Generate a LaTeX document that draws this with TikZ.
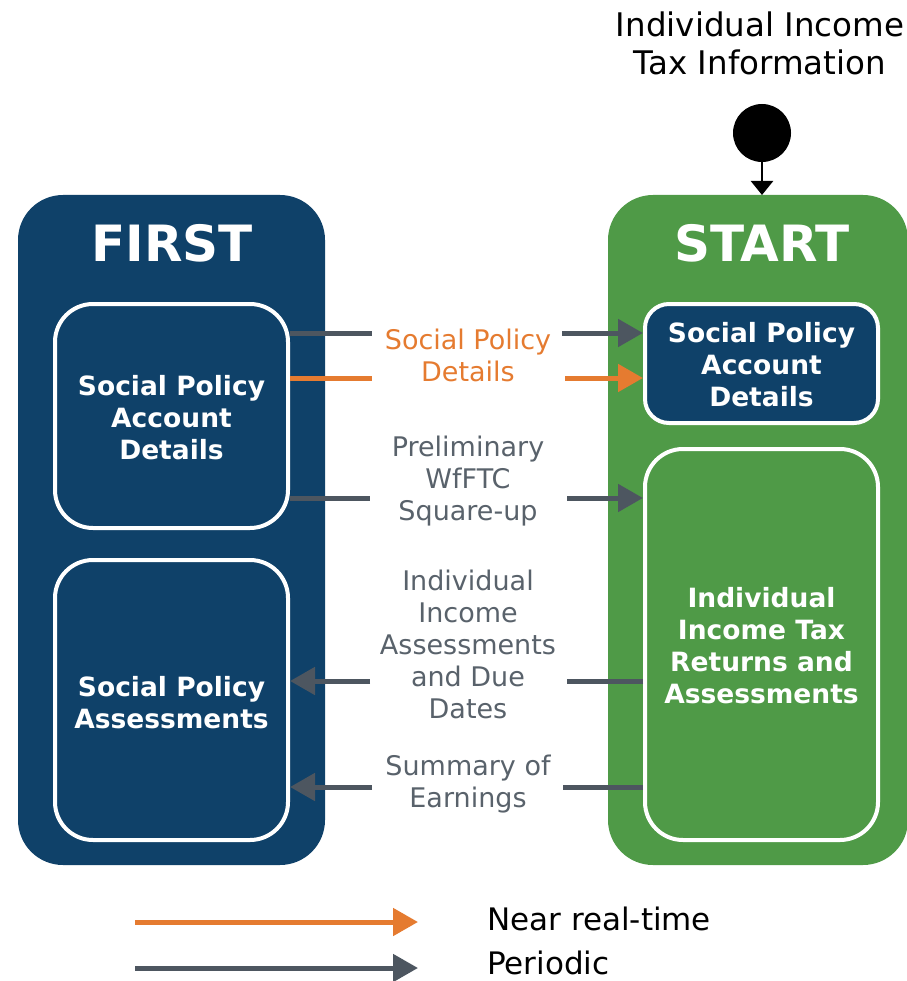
\documentclass[tikz,border=0pt]{standalone}
\usepackage{fontspec}
\setmainfont{DejaVu Sans}
\usetikzlibrary{arrows.meta}
\definecolor{navy}{HTML}{0F4169}
\definecolor{grn}{HTML}{4F9A47}
\definecolor{orng}{HTML}{E57B30}
\definecolor{slate}{HTML}{4D5660}
\definecolor{labgray}{HTML}{59626B}
\tikzset{
  innerbox/.style={draw=white, line width=4pt, rounded corners=38pt},
  boxtext/.style={text=white, font=\bfseries\fontsize{26.5}{32}\selectfont, align=center},
  title/.style={text=white, font=\bfseries\fontsize{50}{56}\selectfont},
  lab/.style={text=labgray, font=\fontsize{27}{32}\selectfont, align=center},
  olab/.style={text=orng, font=\fontsize{27}{32}\selectfont, align=center},
  gline/.style={draw=slate, line width=5pt},
  oline/.style={draw=orng, line width=5pt},
  tip/.style={-{Triangle[length=25pt,width=27pt]}},
  legtext/.style={text=black, font=\fontsize{31}{36}\selectfont, anchor=base west, inner sep=0pt},
}
\begin{document}
\begin{tikzpicture}[x=1pt,y=-1pt]
\useasboundingbox (0,0) rectangle (906,981);
% outer containers
\fill[navy, rounded corners=45pt] (18,195) rectangle (325,865);
\fill[grn, rounded corners=45pt] (608,195) rectangle (908,865);
\node[title] (first) at (172,243) {FIRST};
\node[title] (start) at (762,243) {START};
% inner boxes
\draw[innerbox, fill=navy] (55,304) rectangle (288,528);
\node[boxtext] (l1) at (171.5,418) {Social Policy\\Account\\Details};
\draw[innerbox, fill=navy] (55,560) rectangle (288,840);
\node[boxtext] (l2) at (171.5,703) {Social Policy\\Assessments};
\draw[innerbox, fill=navy, rounded corners=24pt] (645,304) rectangle (878,423);
\node[boxtext] (r1) at (761.5,365) {Social Policy\\Account\\Details};
\draw[innerbox, fill=grn] (645,449) rectangle (878,840);
\node[boxtext] (r2) at (761.5,646) {Individual\\Income Tax\\Returns and\\Assessments};
% start node
\node[font=\fontsize{32.5}{38}\selectfont, align=center] (info) at (760,43) {Individual Income\\Tax Information};
\node[circle, fill=black, minimum size=58pt, inner sep=0pt] (dot) at (762,133) {};
\coordinate (stop) at (762,195);
\draw[black, line width=2.5pt, -{Triangle[length=14pt,width=22pt]}] (dot.south) -- (stop);
% labels
\node[olab] (t1) at (468,355) {Social Policy\\Details};
\node[lab] (t3) at (468,481) {Preliminary\\WfFTC\\Square-up};
\node[lab] (t4) at (468,644) {Individual\\Income\\Assessments\\and Due\\Dates};
\node[lab] (t5) at (468,784) {Summary of\\Earnings};
% connector coordinates
\coordinate (a1s) at (290,333); \coordinate (a1g) at (372,333);
\coordinate (a1h) at (562,333); \coordinate (a1e) at (643,333);
\coordinate (a2s) at (290,378); \coordinate (a2g) at (372,378);
\coordinate (a2h) at (565,378); \coordinate (a2e) at (643,378);
\coordinate (a3s) at (290,498); \coordinate (a3g) at (370,498);
\coordinate (a3h) at (567,498); \coordinate (a3e) at (643,498);
\coordinate (a4s) at (643,681); \coordinate (a4g) at (567,681);
\coordinate (a4h) at (370,681); \coordinate (a4e) at (290,681);
\coordinate (a5s) at (643,787); \coordinate (a5g) at (563,787);
\coordinate (a5h) at (372,787); \coordinate (a5e) at (290,787);
\draw[gline] (a1s) -- (a1g); \draw[gline, tip] (a1h) -- (a1e);
\draw[oline] (a2s) -- (a2g); \draw[oline, tip] (a2h) -- (a2e);
\draw[gline] (a3s) -- (a3g); \draw[gline, tip] (a3h) -- (a3e);
\draw[gline] (a4s) -- (a4g); \draw[gline, tip] (a4h) -- (a4e);
\draw[gline] (a5s) -- (a5g); \draw[gline, tip] (a5h) -- (a5e);
% legend
\coordinate (lg1s) at (135,922); \coordinate (lg1e) at (418,922);
\coordinate (lg2s) at (135,968); \coordinate (lg2e) at (418,968);
\draw[oline, tip] (lg1s) -- (lg1e);
\draw[gline, tip] (lg2s) -- (lg2e);
\node[legtext] (leg1) at (487,930) {Near real-time};
\node[legtext] (leg2) at (487,974) {Periodic};
\end{tikzpicture}
\end{document}
